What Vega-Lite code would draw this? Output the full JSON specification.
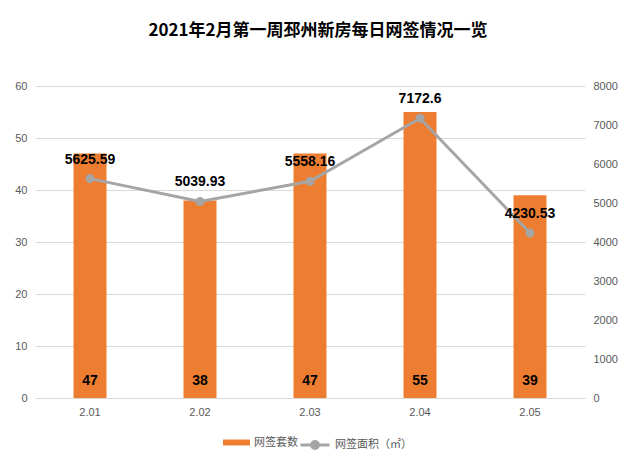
{
  "$schema": "https://vega.github.io/schema/vega-lite/v6.json",
  "autosize": {"type": "none"},
  "width": 550,
  "height": 312,
  "padding": {"left": 35, "top": 86, "right": 51, "bottom": 69},
  "background": "white",
  "title": {
    "text": "2021年2月第一周邳州新房每日网签情况一览",
    "font": "Noto Sans CJK SC",
    "fontSize": 17,
    "fontWeight": "bold",
    "color": "#000000",
    "anchor": "middle",
    "dx": 8,
    "offset": 40
  },
  "data": {
    "values": [
      {"date": "2.01", "count": 47, "area": 5625.59, "s1": "网签套数", "s2": "网签面积（㎡）"},
      {"date": "2.02", "count": 38, "area": 5039.93, "s1": "网签套数", "s2": "网签面积（㎡）"},
      {"date": "2.03", "count": 47, "area": 5558.16, "s1": "网签套数", "s2": "网签面积（㎡）"},
      {"date": "2.04", "count": 55, "area": 7172.6, "s1": "网签套数", "s2": "网签面积（㎡）"},
      {"date": "2.05", "count": 39, "area": 4230.53, "s1": "网签套数", "s2": "网签面积（㎡）"}
    ]
  },
  "encoding": {
    "x": {
      "field": "date",
      "type": "nominal",
      "scale": {"paddingInner": 0, "paddingOuter": 0},
      "axis": {
        "title": null,
        "labelAngle": 0,
        "labelFont": "Liberation Sans",
        "labelFontSize": 11,
        "labelColor": "#595959",
        "labelPadding": 8,
        "ticks": false,
        "domainColor": "#D9D9D9",
        "domainWidth": 1,
        "grid": false
      }
    }
  },
  "layer": [
    {
      "encoding": {
        "y": {
          "field": "count",
          "type": "quantitative",
          "scale": {"domain": [0, 60], "nice": false},
          "axis": {
            "title": null,
            "orient": "left",
            "values": [0, 10, 20, 30, 40, 50, 60],
            "labelFont": "Liberation Sans",
            "labelFontSize": 11,
            "labelColor": "#595959",
            "labelPadding": 8,
            "ticks": false,
            "domain": false,
            "grid": true,
            "gridColor": "#D9D9D9",
            "gridWidth": 1
          }
        }
      },
      "layer": [
        {
          "mark": {"type": "bar", "size": 33},
          "encoding": {
            "fill": {
              "field": "s1",
              "type": "nominal",
              "scale": {"domain": ["网签套数"], "range": ["#ED7D31"]},
              "legend": {
                "title": null,
                "orient": "none",
                "legendX": 188,
                "legendY": 343,
                "symbolType": "M-1,-0.22H1V0.22H-1Z",
                "symbolSize": 729,
                "symbolStrokeWidth": 0,
                "labelFont": "Noto Sans CJK SC",
                "labelFontSize": 11,
                "labelColor": "#595959",
                "labelOffset": 4
              }
            }
          }
        },
        {
          "mark": {
            "type": "text",
            "font": "Liberation Sans",
            "fontSize": 14,
            "fontWeight": "bold",
            "color": "#000000",
            "baseline": "middle",
            "dy": -17
          },
          "encoding": {
            "y": {"datum": 0},
            "text": {"field": "count", "type": "quantitative"}
          }
        }
      ]
    },
    {
      "encoding": {
        "y": {
          "field": "area",
          "type": "quantitative",
          "scale": {"domain": [0, 8000], "nice": false},
          "axis": {
            "title": null,
            "orient": "right",
            "format": "d",
            "values": [0, 1000, 2000, 3000, 4000, 5000, 6000, 7000, 8000],
            "labelFont": "Liberation Sans",
            "labelFontSize": 11,
            "labelColor": "#595959",
            "labelPadding": 8,
            "ticks": false,
            "domain": false,
            "grid": false
          }
        }
      },
      "layer": [
        {
          "mark": {"type": "line", "strokeWidth": 3, "point": {"filled": true, "size": 50, "color": "#A5A5A5"}},
          "encoding": {
            "stroke": {
              "field": "s2",
              "type": "nominal",
              "scale": {"domain": ["网签面积（㎡）"], "range": ["#A5A5A5"]},
              "legend": {
                "title": null,
                "orient": "none",
                "legendX": 264,
                "legendY": 343,
                "symbolType": "M-1,0H1M-0.24,0A0.24,0.24 0 1,1 0.24,0A0.24,0.24 0 1,1 -0.24,0Z",
                "symbolSize": 841,
                "symbolStrokeWidth": 3,
                "symbolFillColor": "#A5A5A5",
                "labelFont": "Noto Sans CJK SC",
                "labelFontSize": 11,
                "labelColor": "#595959",
                "labelOffset": 4
              }
            }
          }
        },
        {
          "mark": {
            "type": "text",
            "font": "Liberation Sans",
            "fontSize": 14,
            "fontWeight": "bold",
            "color": "#000000",
            "baseline": "middle",
            "dy": -19
          },
          "encoding": {
            "text": {"field": "area", "type": "quantitative", "format": ".2~f"}
          }
        }
      ]
    }
  ],
  "resolve": {"scale": {"y": "independent"}},
  "config": {"view": {"stroke": null}}
}
